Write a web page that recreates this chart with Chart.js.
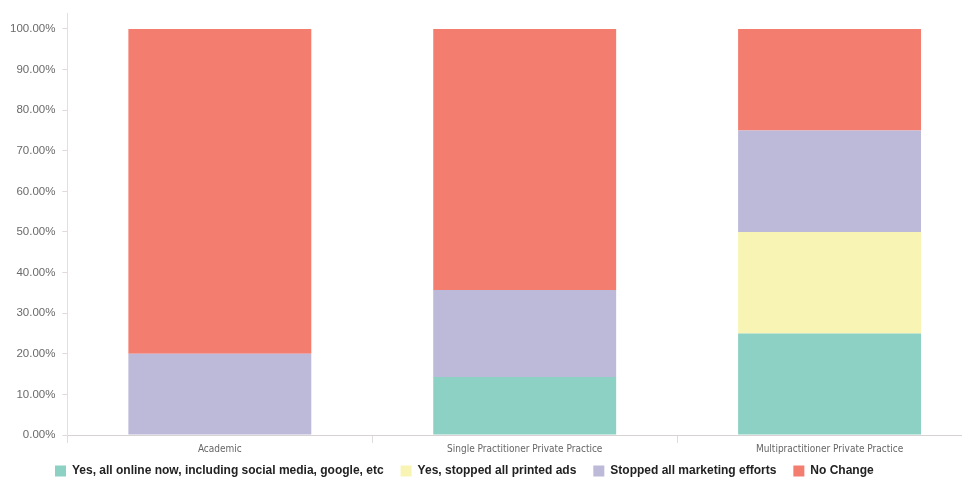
<!DOCTYPE html>
<html>
<head>
<meta charset="utf-8">
<script src="https://cdn.jsdelivr.net/npm/chart.js@4/dist/chart.umd.min.js"></script>
<style>
  html, body { margin: 0; padding: 0; background: #fff; overflow: hidden; }
  #wrap { position: relative; width: 982px; height: 482px; }
</style>
</head>
<body>
<div id="wrap"><canvas id="marketingChart"></canvas></div>
<script>
const categories = ["Academic", "Single Practitioner Private Practice", "Multipractitioner Private Practice"];
const allOnline = [0, 14.29, 25];
const stoppedPrinted = [0, 0, 25];
const stoppedAll = [20, 21.43, 25];
const noChange = [80, 64.29, 25];
const yTicks = [0, 10, 20, 30, 40, 50, 60, 70, 80, 90, 100];

// wide gaps between legend items, but keep the row tucked under the axis labels
const legendShift = {
    id: 'legendShift',
    beforeDraw(chart) {
        const lg = chart.legend;
        if (!lg) return;
        lg.left = 38;
        lg.top = chart.scales.x.bottom - 7;
    }
};

document.addEventListener("DOMContentLoaded", () => {
    const ctx = document.getElementById('marketingChart');

    new Chart(ctx, {
        type: 'bar',
        data: {
            labels: categories,
            datasets: [
                { label: "Yes, all online now, including social media, google, etc", data: allOnline, backgroundColor: "#8dd1c4" },
                { label: "Yes, stopped all printed ads", data: stoppedPrinted, backgroundColor: "#f8f5b4" },
                { label: "Stopped all marketing efforts", data: stoppedAll, backgroundColor: "#bcb9d9" },
                { label: "No Change", data: noChange, backgroundColor: "#f37d6f" }
            ]
        },
        options: {
            responsive: true,
            maintainAspectRatio: false,
            animation: false,
            layout: { padding: { top: 0, left: 3, right: 0, bottom: -12 } },
            datasets: {
                bar: { categoryPercentage: 1, barPercentage: 0.6, borderWidth: 0 }
            },
            scales: {
                x: {
                    stacked: true,
                    grid: { drawOnChartArea: false, drawTicks: true, tickLength: 8, color: '#ddd' },
                    border: { color: '#d8d2d2' },
                    ticks: {
                        color: '#666',
                        font: { family: '"Liberation Sans Narrow", "DejaVu Sans Condensed", sans-serif', size: 10 },
                        padding: 0
                    }
                },
                y: {
                    stacked: true,
                    min: 0,
                    max: 103.7,
                    afterBuildTicks: (axis) => {
                        axis.ticks = yTicks.map(v => ({ value: v }));
                    },
                    grid: { drawOnChartArea: false, drawTicks: true, tickLength: 5, color: '#e2dada' },
                    border: { color: '#e6dede' },
                    ticks: {
                        color: '#6a6a6a',
                        padding: 7,
                        font: { family: '"Liberation Sans", Arial, sans-serif', size: 11.5 },
                        callback: (v) => v.toFixed(2) + '%'
                    }
                }
            },
            plugins: {
                legend: {
                    position: 'bottom',
                    align: 'start',
                    labels: {
                        boxWidth: 11,
                        boxHeight: 11,
                        padding: 17,
                        color: '#222',
                        font: { family: '"Liberation Sans", Arial, sans-serif', size: 12, weight: 'bold' }
                    }
                },
                tooltip: {
                    callbacks: {
                        label: (c) => c.dataset.label + ': ' + c.parsed.y.toFixed(2) + '%'
                    }
                }
            }
        },
        plugins: [legendShift]
    });
});
</script>
</body>
</html>
